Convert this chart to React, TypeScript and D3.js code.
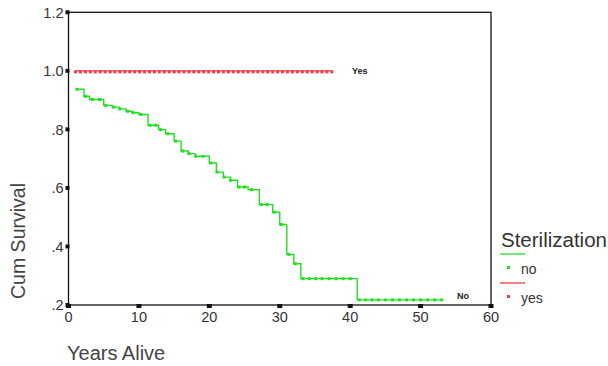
import React from "react";
import * as d3 from "d3";

// Kaplan–Meier estimate for the "no" group: time at which each step begins and the survival level from there on
const noStepTimes = [1.2, 2.2, 3.0, 5.0, 6.2, 7.2, 8.2, 9.0, 10.0, 11.3, 12.8, 13.8, 15.0, 16.0, 17.0, 18.0, 20.0, 21.0, 22.0, 23.0, 24.0, 25.5, 27.1, 29.0, 30.0, 31.0, 32.0, 33.0, 41.0];
const noSurvival = [0.937, 0.913, 0.902, 0.882, 0.876, 0.870, 0.862, 0.857, 0.851, 0.814, 0.799, 0.785, 0.760, 0.726, 0.717, 0.708, 0.685, 0.654, 0.637, 0.626, 0.603, 0.594, 0.543, 0.517, 0.475, 0.373, 0.341, 0.290, 0.2175];
const noEndTime = 53.2;
// Censored observations in the "no" group
const noCensored = [1.2, 2.4, 3.4, 4.4, 5.3, 6.4, 7.3, 8.4, 9.2, 10.3, 11.6, 12.4, 13.1, 14.1, 15.2, 16.2, 17.1, 18.1, 19.1, 20.2, 21.1, 22.1, 23.0, 24.2, 25.0, 26.0, 27.4, 28.2, 29.2, 30.2, 31.3, 32.2, 33.3, 34.2, 35.1, 36.0, 37.0, 38.0, 39.0, 40.0, 41.3, 42.2, 43.1, 44.0, 45.0, 46.0, 47.0, 48.0, 49.0, 50.0, 51.0, 52.0, 53.0];

// "yes" group: no events, survival stays at 1.0
const yesStartTime = 1.0;
const yesEndTime = 37.4;
const yesSurvival = 1.0;
const yesCensored = [1.0, 1.7, 2.4, 3.1, 3.8, 4.5, 5.2, 5.9, 6.6, 7.3, 8.0, 8.7, 9.4, 10.1, 10.8, 11.5, 12.2, 12.9, 13.6, 14.3, 15.0, 15.7, 16.4, 17.1, 17.8, 18.5, 19.2, 19.9, 20.6, 21.3, 22.0, 22.7, 23.4, 24.1, 24.8, 25.5, 26.2, 26.9, 27.6, 28.3, 29.0, 29.7, 30.4, 31.1, 31.8, 32.5, 33.2, 33.9, 34.6, 35.3, 36.0, 36.7, 37.4];

const xTicks = [0, 10, 20, 30, 40, 50, 60];
const yTicks = [0.2, 0.4, 0.6, 0.8, 1.0, 1.2];
const yTickLabels = [".2", ".4", ".6", ".8", "1.0", "1.2"];

const GREEN = "#22e022";
const RED = "#f03c46";
const FONT = "'Liberation Sans', Arial, sans-serif";

function survivalAt(t: number): number {
  let s = noSurvival[0];
  for (let i = 0; i < noStepTimes.length; i++) {
    if (noStepTimes[i] <= t) s = noSurvival[i];
  }
  return s;
}

export default function App() {
  const width = 608;
  const height = 366;
  const x = d3.scaleLinear().domain([0, 60]).range([68.5, 491]);
  const y = d3.scaleLinear().domain([0.2, 1.2]).range([305, 12.3]);

  const noPoints: [number, number][] = noStepTimes.map((t, i) => [t, noSurvival[i]]);
  noPoints.push([noEndTime, noSurvival[noSurvival.length - 1]]);
  const stepLine = d3
    .line<[number, number]>()
    .x((d) => x(d[0]))
    .y((d) => y(d[1]))
    .curve(d3.curveStepAfter);

  const yesLine = d3
    .line<[number, number]>()
    .x((d) => x(d[0]))
    .y((d) => y(d[1]));

  const m = 3; // censor marker size

  return (
    <svg
      width={width}
      height={height}
      style={{ position: "absolute", left: 0, top: 0, background: "#fff" }}
      fontFamily={FONT}
    >
      <rect x={0} y={0} width={width} height={height} fill="#fff" />

      {/* plot frame */}
      <rect
        x={x(0)}
        y={y(1.2)}
        width={x(60) - x(0)}
        height={y(0.2) - y(1.2)}
        fill="none"
        stroke="#111"
        strokeWidth={1.3}
      />

      {/* y ticks */}
      {yTicks.map((v, i) => (
        <g key={"yt" + i}>
          <rect x={x(0) - 3} y={y(v) - 2} width={4} height={4} fill="#111" />
          <text
            x={x(0) - 5}
            y={y(v)}
            dy="0.36em"
            textAnchor="end"
            fontSize={14.5}
            fill="#333"
          >
            {yTickLabels[i]}
          </text>
        </g>
      ))}

      {/* x ticks */}
      {xTicks.map((v) => (
        <g key={"xt" + v}>
          <rect x={x(v) - 2.5} y={y(0.2) - 1} width={5} height={4} fill="#111" />
          <text x={x(v)} y={y(0.2) + 17} textAnchor="middle" fontSize={14.5} fill="#333">
            {v}
          </text>
        </g>
      ))}

      {/* axis titles */}
      <text
        transform={`translate(25, 241) rotate(-90)`}
        textAnchor="middle"
        fontSize={19.5}
        fill="#444"
      >
        Cum Survival
      </text>
      <text x={67} y={360} fontSize={20} fill="#444">
        Years Alive
      </text>

      {/* "yes" group */}
      <path
        d={yesLine([
          [yesStartTime, yesSurvival],
          [yesEndTime, yesSurvival],
        ]) || ""}
        fill="none"
        stroke={RED}
        strokeWidth={1.3}
      />
      {yesCensored.map((t, i) => (
        <rect key={"yc" + i} x={x(t) - 1.5} y={y(yesSurvival) - 0.5} width={m} height={m} fill={RED} />
      ))}

      {/* "no" group */}
      <path d={stepLine(noPoints) || ""} fill="none" stroke={GREEN} strokeWidth={1.4} />
      {noCensored.map((t, i) => (
        <rect key={"nc" + i} x={x(t) - 1.5} y={y(survivalAt(t)) - 1.5} width={m} height={m} fill={GREEN} />
      ))}

      {/* curve labels */}
      <text x={352} y={74} fontSize={9} fontWeight="bold" fill="#222">
        Yes
      </text>
      <text x={457} y={299} fontSize={9} fontWeight="bold" fill="#222">
        No
      </text>

      {/* legend */}
      <text x={501} y={247} fontSize={20.5} fill="#333">
        Sterilization
      </text>
      <line x1={500} x2={525} y1={254} y2={254} stroke={GREEN} strokeWidth={1.3} />
      <rect x={507} y={266} width={m} height={m} fill={GREEN} />
      <text x={521} y={274} fontSize={14} fill="#333">
        no
      </text>
      <line x1={500} x2={525} y1={283} y2={283} stroke={RED} strokeWidth={1.3} />
      <rect x={507} y={295} width={m} height={m} fill={RED} />
      <text x={521} y={303} fontSize={14} fill="#333">
        yes
      </text>
    </svg>
  );
}
